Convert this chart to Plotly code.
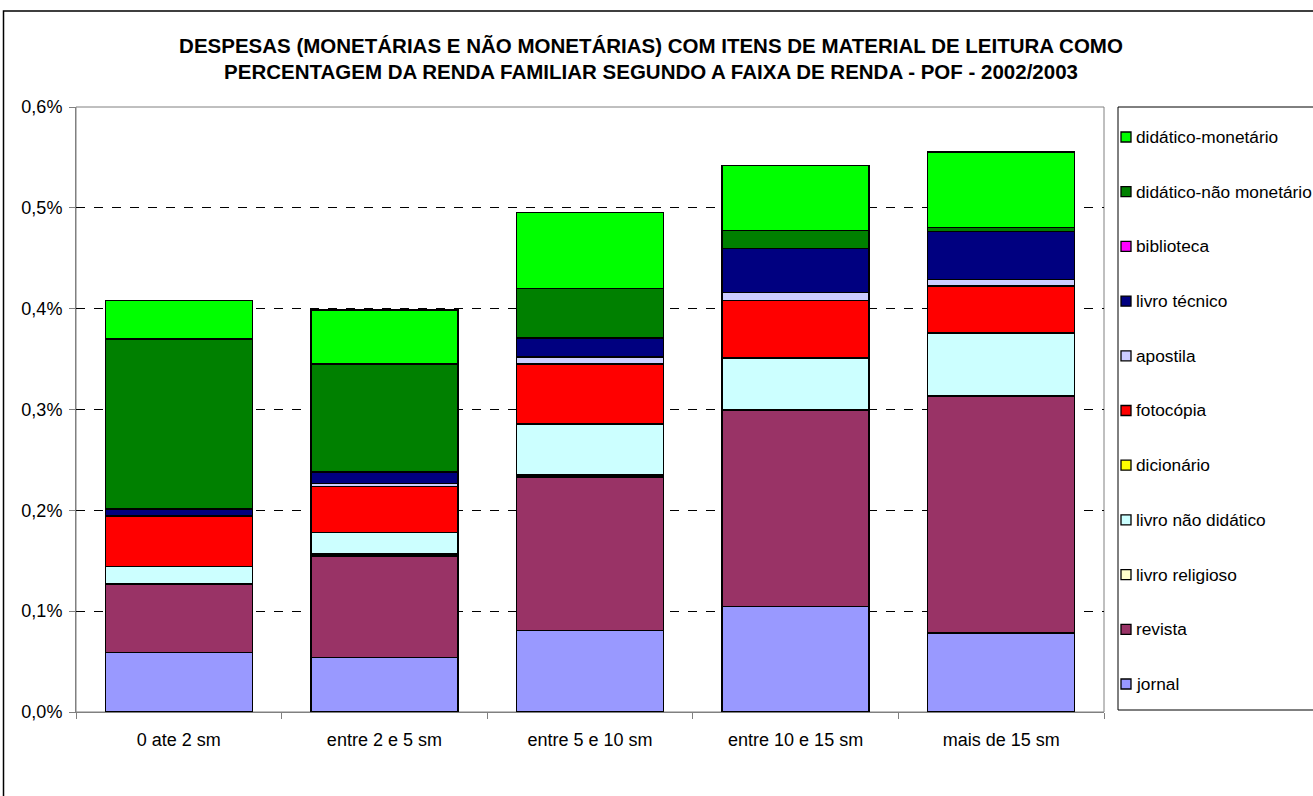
import plotly.graph_objects as go

categories = ["0 ate 2 sm", "entre 2 e 5 sm", "entre 5 e 10 sm", "entre 10 e 15 sm", "mais de 15 sm"]

# values in % of family income, stacked bottom -> top
jornal = [0.059, 0.0543, 0.081, 0.1045, 0.0784]
revista = [0.0675, 0.1005, 0.1522, 0.1943, 0.2344]
livro_religioso = [0.001, 0.002, 0.0018, 0.0007, 0.0007]
livro_nao_didatico = [0.0165, 0.021, 0.0505, 0.0515, 0.062]
dicionario = [0.0005, 0.0005, 0.0005, 0.0005, 0.0005]
fotocopia = [0.0495, 0.045, 0.0592, 0.0565, 0.0466]
apostila = [0.001, 0.003, 0.007, 0.008, 0.006]
livro_tecnico = [0.006, 0.0115, 0.0185, 0.0436, 0.0476]
biblioteca = [0.0003, 0.0003, 0.0003, 0.0002, 0.0002]
didatico_nao_monetario = [0.1687, 0.107, 0.0493, 0.0177, 0.0044]
didatico_monetario = [0.038, 0.0537, 0.075, 0.0645, 0.0745]

series_names = ["jornal", "revista", "livro religioso", "livro não didático", "dicionário",
                "fotocópia", "apostila", "livro técnico", "biblioteca",
                "didático-não monetário", "didático-monetário"]
series_values = [jornal, revista, livro_religioso, livro_nao_didatico, dicionario,
                 fotocopia, apostila, livro_tecnico, biblioteca,
                 didatico_nao_monetario, didatico_monetario]
series_colors = ["#9999FF", "#993366", "#FFFFCC", "#CCFFFF", "#FFFF00",
                 "#FF0000", "#CCCCFF", "#000080", "#FF00FF", "#008000", "#00FF00"]

y_ticks = [0, 0.1, 0.2, 0.3, 0.4, 0.5, 0.6]
y_ticktext = ["0,0%", "0,1%", "0,2%", "0,3%", "0,4%", "0,5%", "0,6%"]

FONT = "Liberation Sans, Arial, sans-serif"
W, H = 1313, 796
# plot area in page pixels: x 76..1104, y 107..712
L = 76
T = 107
R = W - 1104
B = H - 712
PW, PH = W - L - R, H - T - B


def px(x):  # page pixel -> paper
    return (x - L) / PW


def py(y):
    return (H - B - y) / PH


fig = go.Figure()
for name, vals, color in zip(series_names, series_values, series_colors):
    fig.add_trace(go.Bar(
        x=categories, y=vals, name=name,
        marker=dict(color=color, line=dict(color="black", width=1.3)),
    ))

fig.update_layout(
    width=W, height=H,
    barmode="stack", bargap=0.285,
    paper_bgcolor="white", plot_bgcolor="white",
    margin=dict(l=L, r=R, t=T, b=B, autoexpand=False),
    font=dict(family=FONT, size=17, color="black"),
    title=dict(
        text="<b>DESPESAS (MONETÁRIAS E NÃO MONETÁRIAS) COM ITENS DE MATERIAL DE LEITURA COMO<br>PERCENTAGEM DA RENDA FAMILIAR SEGUNDO A FAIXA DE RENDA - POF - 2002/2003</b>",
        x=651 / W, xanchor="center", y=1 - 52.5 / H, yanchor="middle",
        font=dict(size=20.5, family=FONT),
    ),
    showlegend=False,
)
fig.update_yaxes(
    range=[0, 0.6], tickvals=y_ticks, ticktext=y_ticktext,
    showgrid=True, gridcolor="black", griddash="dash", gridwidth=1,
    showline=True, linecolor="#808080", linewidth=1,
    ticks="outside", ticklen=6, tickcolor="#808080",
    zeroline=False, tickfont=dict(size=18), ticklabelstandoff=3,
)
fig.update_xaxes(
    showline=True, linecolor="#808080", linewidth=1,
    ticks="outside", ticklen=6, tickcolor="#808080", tickson="boundaries",
    tickfont=dict(size=18), ticklabelstandoff=11,
)
# plot area frame
fig.add_shape(type="rect", xref="paper", yref="paper", x0=0, x1=1, y0=0, y1=1,
              line=dict(color="#808080", width=1), layer="below")
# outer chart frame
fig.add_shape(type="rect", xref="paper", yref="paper",
              x0=px(3.5), x1=px(1400), y0=py(900), y1=py(11),
              line=dict(color="black", width=1.5), layer="below")
# legend box
fig.add_shape(type="rect", xref="paper", yref="paper",
              x0=px(1118), x1=px(1400), y0=py(710), y1=py(107),
              line=dict(color="black", width=1), fillcolor="white", layer="above")
# legend entries (top item = last series)
n = len(series_names)
for i in range(n):
    idx = n - 1 - i
    yc = 137 + i * 54.7
    fig.add_shape(type="rect", xref="paper", yref="paper",
                  x0=px(1121), x1=px(1131), y0=py(yc + 5), y1=py(yc - 5),
                  line=dict(color="black", width=1.3), fillcolor=series_colors[idx], layer="above")
    fig.add_annotation(xref="paper", yref="paper", x=px(1134), y=py(yc),
                       xanchor="left", yanchor="middle", showarrow=False,
                       text=series_names[idx], font=dict(size=17.3, family=FONT))

fig.write_html("out.html", config={"displayModeBar": False},
               post_script="document.body.style.margin='0px';")
